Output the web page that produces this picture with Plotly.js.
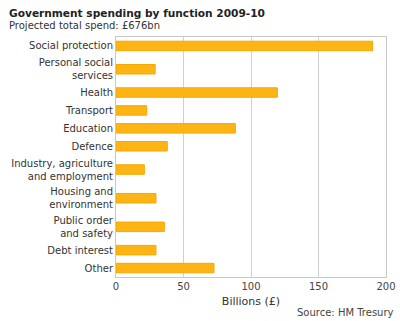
<!DOCTYPE html>
<html><head><meta charset="utf-8">
<script src="https://cdn.plot.ly/plotly-3.0.1.min.js"></script>
<style>body{margin:0;background:#fff}#c{width:400px;height:321px}</style>
</head><body><div id="c"></div>
<script>
const categories = ["Social protection","Personal social<br>services","Health","Transport","Education","Defence","Industry, agriculture<br>and employment","Housing and<br>environment","Public order<br>and safety","Debt interest","Other"];
const values = [190, 29, 119.5, 22.7, 88.4, 38, 21, 29.6, 35.8, 29.6, 72.6];
const xTicks = [0, 50, 100, 150, 200];

// Row layout: two-line labels get a taller slot (derived from label line counts)
const slot = categories.map(c => c.split("<br>").length > 1 ? 1.6 : 1);
const rowPos = [];
let acc = 0;
slot.forEach(s => { rowPos.push(acc + s / 2); acc += s; });
const total = acc;

const font = "DejaVu Sans, Verdana, sans-serif";
Plotly.newPlot("c", [{
  type: "bar", orientation: "h",
  x: values, y: rowPos, width: 0.53,
  marker: {color: "#FDB515", line: {color: "#F7A800", width: 1}},
  hoverinfo: "none"
}], {
  width: 400, height: 321,
  margin: {l: 116, r: 14, t: 37, b: 44},
  paper_bgcolor: "#fff", plot_bgcolor: "#fff",
  showlegend: false,
  font: {family: font, color: "#444", size: 10},
  xaxis: {range: [0, 200], tickvals: xTicks, ticktext: xTicks.map(String),
    showgrid: true, gridcolor: "#d0d0d0", gridwidth: 1,
    showline: true, linecolor: "#c8c8c8", mirror: true, zeroline: false,
    ticks: "", tickfont: {size: 10, color: "#444"},
    title: {text: "Billions (£)", font: {size: 11, color: "#333"}, standoff: 6}},
  yaxis: {range: [total, 0], tickvals: rowPos, ticktext: categories,
    showline: true, linecolor: "#c8c8c8", mirror: true, showgrid: false, zeroline: false,
    ticks: "", ticklen: 0, tickfont: {size: 10, color: "#333"}},
  annotations: [
    {text: "<b>Government spending by function 2009-10</b>", xref: "paper", yref: "paper",
     x: 0, y: 0, xanchor: "left", yanchor: "middle", showarrow: false, font: {size: 10.6, color: "#222"}},
    {text: "Projected total spend: £676bn", xref: "paper", yref: "paper",
     x: 0, y: 0, xanchor: "left", yanchor: "middle", showarrow: false, font: {size: 10, color: "#333"}},
    {text: "Source: HM Tresury", xref: "paper", yref: "paper",
     x: 1, y: 0, xanchor: "right", yanchor: "middle", showarrow: false, font: {size: 10, color: "#444"}}
  ]
}, {staticPlot: true, displayModeBar: false}).then(() => {
  const ph = 321 - 37 - 44, pw = 400 - 116 - 14;
  const toX = px => (px - 116) / pw, toY = py => (321 - 44 - py) / ph;
  Plotly.relayout("c", {
    "annotations[0].x": toX(7), "annotations[0].y": toY(13),
    "annotations[1].x": toX(7), "annotations[1].y": toY(26),
    "annotations[2].x": toX(396), "annotations[2].y": toY(312)
  });
});
</script></body></html>
